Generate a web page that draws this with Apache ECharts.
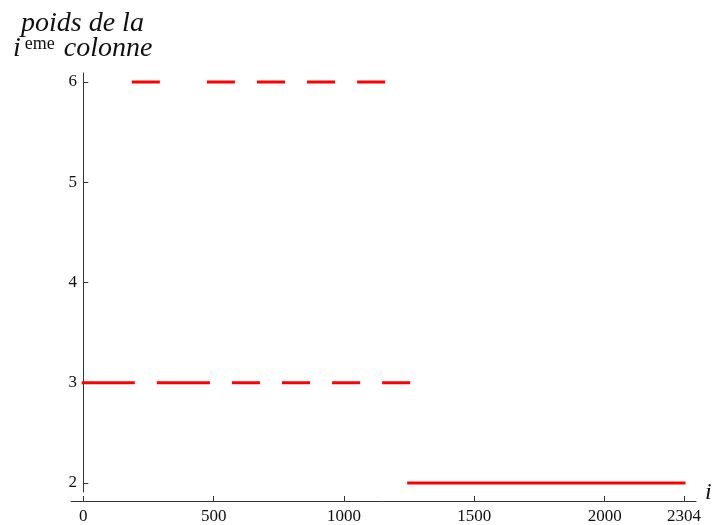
<!DOCTYPE html>
<html><head><meta charset="utf-8">
<script src="https://cdn.jsdelivr.net/npm/echarts@6/dist/echarts.min.js"></script>
<style>html,body{margin:0;padding:0;background:#fff}#c{width:715px;height:525px}</style>
</head><body><div id="c"></div>
<script>
// Data: horizontal segments [start, end] per weight level
const level6 = 6;
const segments6 = [[192,288],[480,576],[672,768],[864,960],[1056,1152]];
const level3 = 3;
const segments3 = [[0,192],[288,480],[576,672],[768,864],[960,1056],[1152,1248]];
const level2 = 2;
const segments2 = [[1248,2304]];
const xTicks = [0, 500, 1000, 1500, 2000, 2304];
const yTicks = [2, 3, 4, 5, 6];

const serif = '"Liberation Serif", "DejaVu Serif", serif';
const axisColor = '#333';
const labelColor = '#111';

const series = [];
function addLevel(level, segs) {
  segs.forEach(s => {
    series.push({
      type: 'line', xAxisIndex: 0, yAxisIndex: 0,
      data: [[s[0], level], [s[1], level]],
      showSymbol: false, symbol: 'none', silent: true,
      lineStyle: { color: '#ff0000', width: 3, cap: 'square' },
      animation: false
    });
  });
}
addLevel(level6, segments6);
addLevel(level3, segments3);
addLevel(level2, segments2);

const xMin = -47, xMax = 2350;
const chart = echarts.init(document.getElementById('c'));
chart.setOption({
  animation: false,
  backgroundColor: '#fff',
  grid: [
    { left: 71, right: 19, top: 73, bottom: 33 },
    { left: 71, right: 19, top: 73, bottom: 21 }
  ],
  xAxis: [
    { type: 'value', gridIndex: 0, min: xMin, max: xMax, show: false },
    { type: 'value', gridIndex: 1, min: xMin, max: xMax,
      axisLine: { show: true, onZero: false, lineStyle: { color: axisColor, width: 1 } },
      axisTick: { show: true, inside: true, length: 5, customValues: xTicks, lineStyle: { color: axisColor } },
      axisLabel: { customValues: xTicks, margin: 7, color: labelColor, fontFamily: serif, fontSize: 17,
        formatter: v => String(v) },
      splitLine: { show: false },
      name: 'i', nameLocation: 'end', nameGap: 9,
      nameTextStyle: { fontFamily: serif, fontStyle: 'italic', fontSize: 24, color: labelColor,
        verticalAlign: 'bottom', padding: [0, 0, -4, 0] }
    }
  ],
  yAxis: [
    { type: 'value', gridIndex: 0, min: 1.91, max: 6.09,
      axisLine: { show: true, onZero: true, lineStyle: { color: axisColor, width: 1 } },
      axisTick: { show: true, inside: true, length: 5, customValues: yTicks, lineStyle: { color: axisColor } },
      axisLabel: { customValues: yTicks, margin: -6, color: labelColor, fontFamily: serif, fontSize: 17,
        formatter: v => String(v) },
      splitLine: { show: false }
    },
    { type: 'value', gridIndex: 1, show: false, min: 0, max: 1 }
  ],
  graphic: [
    { type: 'text', left: 21, top: 10,
      style: { text: 'poids de la', fontFamily: serif, fontStyle: 'italic', fontSize: 28, fill: labelColor } },
    { type: 'text', left: 13, top: 35,
      style: {
        text: '{i|i}{s|eme}{c|colonne}',
        rich: {
          i: { fontFamily: serif, fontStyle: 'italic', fontSize: 28, fill: labelColor, verticalAlign: 'bottom' },
          s: { fontFamily: serif, fontSize: 18, fill: labelColor, verticalAlign: 'top', padding: [0, 9, 10, 4] },
          c: { fontFamily: serif, fontStyle: 'italic', fontSize: 28, fill: labelColor, verticalAlign: 'bottom' }
        }
      } }
  ],
  series: series
});
</script></body></html>
